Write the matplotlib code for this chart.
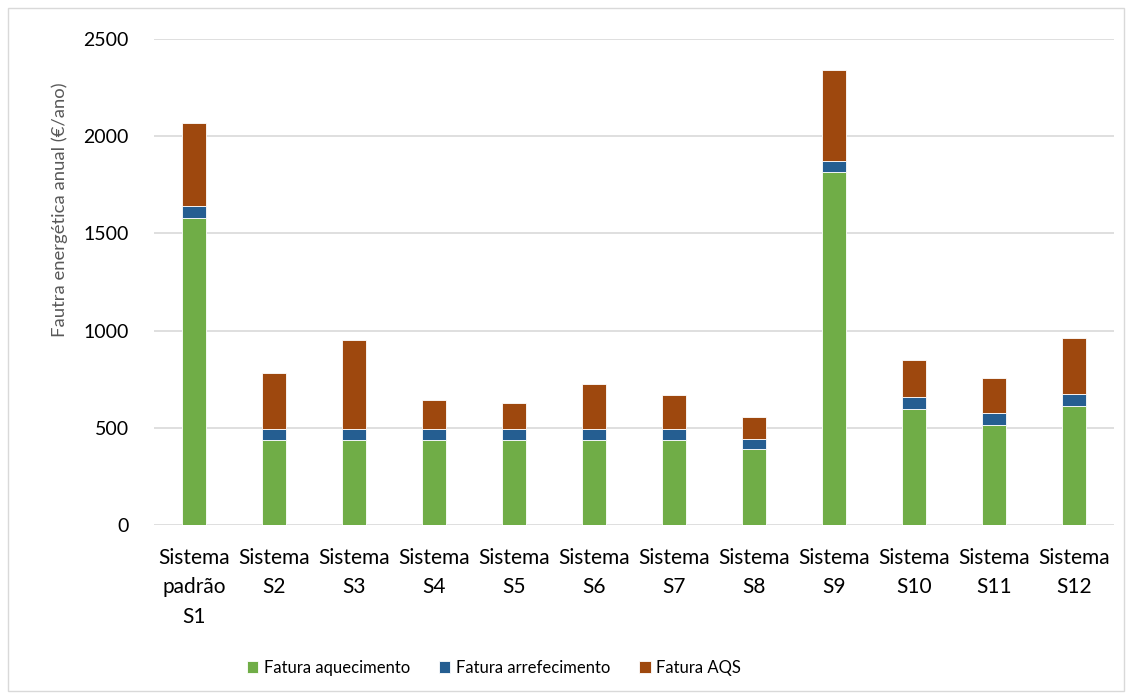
import matplotlib
matplotlib.use("Agg")
import matplotlib.pyplot as plt
import numpy as np
from matplotlib.patches import Rectangle

plt.rcParams['font.family'] = ['Lato', 'DejaVu Sans']

categories = ["Sistema\npadrão\nS1", "Sistema\nS2", "Sistema\nS3", "Sistema\nS4",
              "Sistema\nS5", "Sistema\nS6", "Sistema\nS7", "Sistema\nS8",
              "Sistema\nS9", "Sistema\nS10", "Sistema\nS11", "Sistema\nS12"]
aquecimento = [1580, 437, 437, 436, 436, 436, 436, 390, 1817, 599, 517, 615]
arrefecimento = [61, 56, 56, 57, 57, 57, 57, 53, 57, 59, 58, 61]
aqs = [426, 288, 458, 149, 135, 235, 178, 113, 464, 190, 180, 285]

series = [("Fatura aquecimento", aquecimento, "#70AD47"),
          ("Fatura arrefecimento", arrefecimento, "#255E91"),
          ("Fatura AQS", aqs, "#9E480E")]

fig = plt.figure(figsize=(11.32, 6.99), dpi=100)
ax = fig.add_axes([154/1132, 1-525.3/699, 960/1132, 486.5/699])

x = np.arange(len(categories))
bottom = np.zeros(len(categories))
for name, vals, color in series:
    ax.bar(x, vals, width=0.31, bottom=bottom, color=color, label=name,
           edgecolor="white", linewidth=0.6, zorder=3)
    bottom += np.array(vals)

ax.set_xlim(-0.5, len(categories) - 0.5)
ax.set_ylim(0, 2500)
ax.set_yticks(np.arange(0, 2501, 500))
ax.yaxis.grid(True, color="#D9D9D9", linewidth=1.2, zorder=0)
ax.set_axisbelow(True)
for s in ax.spines.values():
    s.set_visible(False)
ax.set_xticks(x)
ax.set_xticklabels(categories, fontsize=15, linespacing=1.6)
ax.tick_params(axis="both", length=0, colors="black")
ax.tick_params(axis="y", pad=18, labelsize=14)
ax.tick_params(axis="x", pad=16)

fig.text(60/1132, 1-210/699, "Fautra energética anual (€/ano)", rotation=90,
         ha="center", va="center", fontsize=13.3, color="#595959")

leg = fig.legend(loc="center", bbox_to_anchor=(494/1132, 1-668/699), ncol=3,
                 frameon=False, fontsize=12, handlelength=0.7, handleheight=0.7,
                 handletextpad=0.35, columnspacing=1.7)

fig.patches.append(Rectangle((8/1132, 8/699), 1-16/1132, 1-16/699,
                             transform=fig.transFigure, fill=False,
                             edgecolor="#D9D9D9", linewidth=1))

fig.savefig("out.png", dpi=100)
